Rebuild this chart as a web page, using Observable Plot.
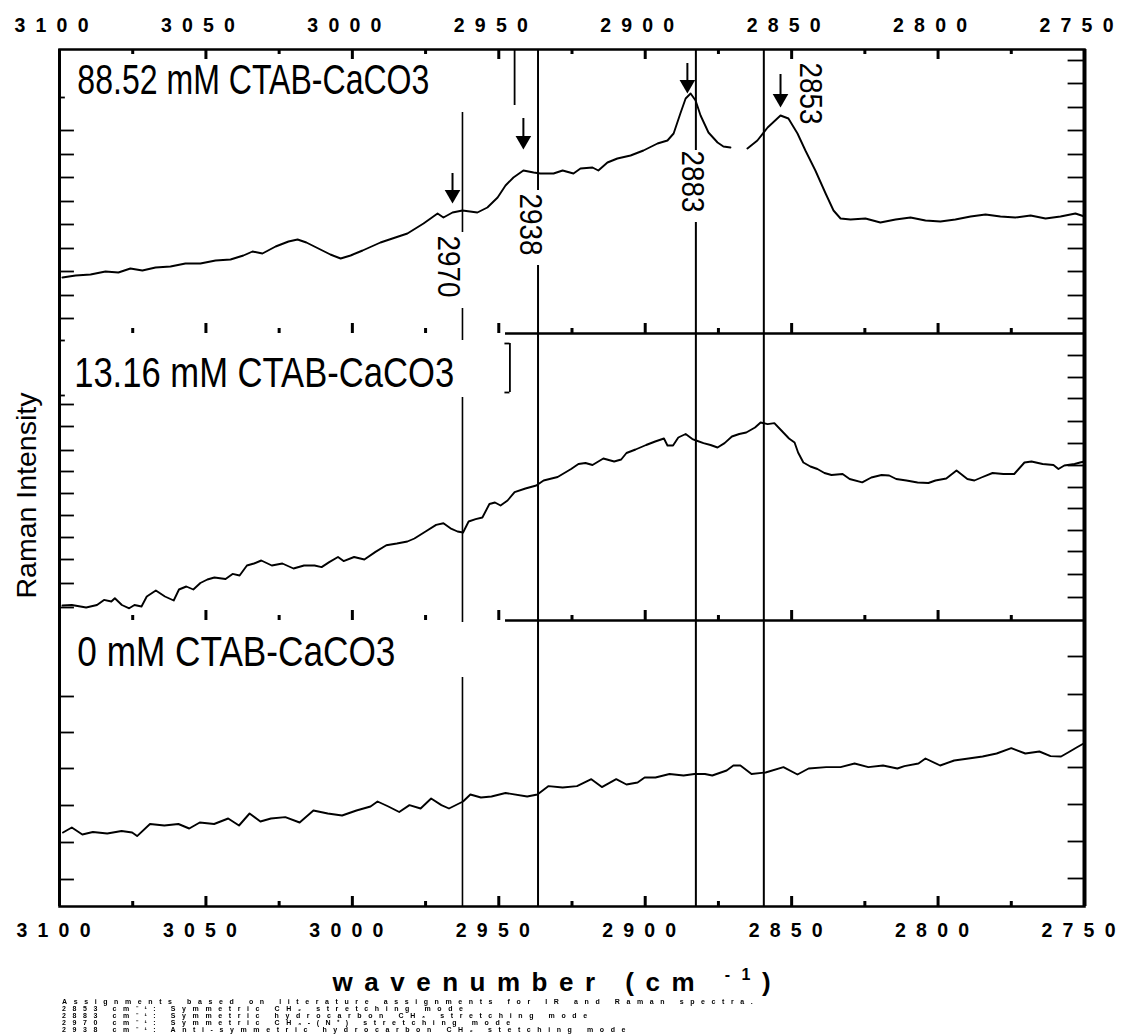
<!DOCTYPE html>
<html><head><meta charset="utf-8">
<script src="https://cdn.jsdelivr.net/npm/d3@7"></script>
<script src="https://cdn.jsdelivr.net/npm/@observablehq/plot@0.6"></script>
<style>
body{margin:0;background:#fff;width:1121px;height:1035px;overflow:hidden;font-family:"Liberation Sans",Arial,sans-serif}
#note{margin-left:62px;margin-top:2px;font-weight:bold;font-size:7px;line-height:7px;letter-spacing:6.6px;color:#000;white-space:nowrap;will-change:transform}
</style></head><body><div id="chart"></div>
<div id="note"></div>
<script>
// ---------- data ----------
const wavenumberTicks = [3100,3050,3000,2950,2900,2850,2800,2750];
const majorTicks = [3050,3000,2950,2900,2850,2800];
const minorTicks = [3075,3025,2975,2925,2875,2825,2775];
const panelNames = ["0 mM CTAB-CaCO3","13.16 mM CTAB-CaCO3","88.52 mM CTAB-CaCO3"];
const panelOffsets = [0, 286, 573];   // stacking offsets (a.u.)
const yTop = 857;

// 88.52 mM spectrum (null = break in trace)
const topWn = [3099.0,3094.5,3089.4,3084.3,3079.9,3075.8,3071.7,3067.2,3062.1,3057.0,
3051.9,3046.7,3041.6,3037.2,3034.1,3030.7,3026.2,3021.8,3018.7,3015.7,
3011.6,3007.5,3004.0,3000.6,2996.5,2990.4,2985.3,2981.2,2975.7,2970.9,
2968.9,2965.8,2962.4,2957.3,2953.9,2950.4,2947.7,2945.0,2941.6,2938.1,
2935.8,2931.3,2928.2,2924.5,2922.1,2918.0,2916.0,2912.9,2909.5,2905.0,
2900.6,2895.8,2892.4,2890.3,2888.0,2886.2,2884.5,2882.8,2881.1,2878.4,
2875.3,2873.3,2870.9,2868.0,2865.1,2861.7,2858.2,2853.8,2851.1,2848.0,
2845.3,2841.9,2838.4,2835.7,2833.3,2829.9,2824.8,2819.7,2814.5,2809.4,
2804.3,2799.2,2794.1,2788.9,2783.8,2778.7,2773.6,2768.4,2763.3,2758.2,
2753.1,2750.0];
const topI = [56,58,59,62,61,65,63,66,67,70,
70,73,74,78,82,80,87,92,94,91,
85,79,75,78,83,91,96,100,110,120,
116,121,123,121,126,136,148,156,163,161,
160,160,163,160,165,166,163,171,175,178,
183,190,193,200,220,235,240,233,218,201,
191,187,186,null,185,193,206,218,215,200,
183,163,140,123,115,114,115,111,114,116,
113,112,114,117,119,117,116,118,115,117,
120,117];

// 13.16 mM spectrum
const midWn = [3099.0,3095.8,3090.9,3087.2,3084.8,3082.3,3081.1,3078.7,3076.2,3074.4,
3072.0,3070.2,3067.1,3064.0,3061.0,3059.2,3056.7,3054.3,3051.9,3049.5,
3047.1,3043.3,3040.9,3038.5,3036.0,3033.6,3031.1,3027.5,3023.9,3020.1,
3016.5,3012.9,3010.5,3007.9,3004.9,3003.0,2999.4,2995.9,2992.1,2988.4,
2984.8,2981.2,2978.8,2975.0,2971.4,2968.9,2966.5,2964.1,2962.2,2960.3,
2957.9,2955.6,2953.2,2951.3,2949.4,2947.0,2944.6,2940.9,2937.2,2934.7,
2929.9,2925.3,2922.8,2920.4,2918.0,2914.3,2910.6,2908.2,2906.4,2903.3,
2899.7,2896.6,2893.6,2892.4,2890.5,2888.7,2886.2,2883.9,2882.6,2880.1,
2877.7,2875.3,2872.9,2870.4,2867.9,2865.5,2862.5,2860.6,2858.2,2855.9,
2853.5,2850.9,2849.0,2847.8,2846.0,2843.6,2841.2,2838.8,2836.4,2832.6,
2830.2,2825.9,2822.8,2819.3,2816.7,2814.3,2810.8,2807.0,2803.3,2800.9,
2797.2,2793.7,2790.0,2787.6,2785.2,2781.4,2777.7,2774.0,2770.5,2768.1,
2764.3,2760.6,2758.9,2756.9,2753.4,2751.5,2750.0];
const midI = [15,15.5,13,15.5,20.6,19,22.3,15.5,12.2,15.5,
14,24,30,24,20,31,34,31,37.5,41,
43,41.5,46.6,45,55,57,60,55,57,52,
55,55,53.4,58.4,63.5,59.4,63.5,61,68.6,75.3,
77,79,82,89,95.6,97.3,92.2,89,88,99,
101.3,103,116.5,118,115,120,128.3,132,135,140,
143.5,151.5,156.5,157.5,155.5,162,159,161,167.5,171,
175.5,179,182,175,175,183,186.5,181.4,180,177.4,
175.5,173,177.4,184,186.5,188,193,198,196.4,197.4,
190,182,178,168,158,154,151.5,147.5,145.5,146.5,
141.5,138.2,143,145.5,145,141.5,140,138,137.5,140,
142,150,141.5,140,143,147.5,146.5,146.5,158,159,
156.5,155.5,151.5,155,156.5,158,159];

// 0 mM spectrum
const botWn = [3098.8,3095.8,3092.2,3088.6,3083.7,3078.8,3075.2,3073.5,3069.1,3064.2,
3059.4,3055.7,3052.1,3047.2,3042.4,3038.7,3035.1,3031.4,3027.8,3022.9,
3018.0,3013.3,3008.4,3003.5,2998.6,2993.8,2991.4,2987.7,2984.0,2980.5,
2976.7,2973.1,2969.6,2967.0,2962.2,2959.7,2956.1,2952.5,2947.7,2940.3,2936.8,
2933.0,2928.2,2923.3,2918.4,2914.8,2909.9,2906.4,2902.6,2900.2,2896.5,
2891.7,2886.9,2883.2,2879.6,2877.1,2872.2,2869.9,2867.5,2863.7,2858.9,
2852.8,2848.0,2844.2,2838.2,2833.3,2828.5,2823.8,2818.8,2813.9,2811.5,
2806.7,2804.3,2799.3,2794.5,2789.6,2784.8,2780.0,2775.0,2770.2,2765.4,
2761.6,2758.0,2755.6,2752.7,2750.3];
const botI = [74,79,72,74.5,73,75.5,74,70.4,82.5,81,
82.5,78,84,82.5,88,81,93,85,88,89.4,
84,96,93,91,96,100,105,100,94.5,101.4,
98,108,101.4,98,105,112,109,110,113.5,110,112,
120.4,119,120.4,127.3,119.4,127.3,122,124,129,129,
132.5,131,132.5,132.5,131,136,141,141,132.5,134,
139.4,132,138,139.4,139.4,143,139.4,141,138,140.4,
143,148,141,146,148,150,153,158.4,153,155,
150.4,150,154,159,163];

// peak assignments
const peakLabels = ["2970","2938","2883","2853"];
const peakLabelWn = [2967.2, 2939.2, 2883.9, 2843.6];
const peakLabelY = [640, 682, 725, 813];
const arrowWn = [2965.8, 2941.6, 2885.6, 2853.8];
const arrowTop = [733, 788, 843, 832];
const arrowTip = [703, 757, 813, 799];
// reference lines drawn as segments (gaps behind labels / boxes)
const segWn   = [2962.4,2962.4,2962.4,2962.4, 2936.6,2936.6, 2882.7,2882.7, 2859.5];
const segFrom = [794, 598, 509, 229, 857, 641, 857, 684, 857];
const segTo   = [674, 566, 284,   0, 716,   0, 756,   0,   0];
const segW    = [1.6,1.6,1.6,1.6, 2,2, 2,2, 2];

// unlabelled intensity ticks (a.u.)
const leftTicks = [776,752,729,705,682,658,635,611,588, 502,480,456,435,413,391,369,347,323,299, 210,174,138,101,64,27];
const rightTicks = [846,823,799,776,752,729,705,682,658,635,611,588, 551,529,508,485,463,441,419,398,376,355,332,309, 250,212,176,139,102,65,28];

const footLines = [
 "Assignments based on literature assignments for IR and Raman spectra.",
 "2853 cm⁻¹: Symmetric CH₂ stretching mode",
 "2883 cm⁻¹: Symmetric hydrocarbon CH₃ stretching mode",
 "2970 cm⁻¹: Symmetric CH₃-(N⁺) stretching mode",
 "2938 cm⁻¹: Anti-symmetric hydrocarbon CH₂ stetching mode"
];

// ---------- tables ----------
const rows = [];
[[botWn, botI], [midWn, midI], [topWn, topI]].forEach(([w, I], k) => {
  w.forEach((x, i) => rows.push({series: panelNames[k], wn: x, y: I[i] == null ? NaN : I[i] + panelOffsets[k]}));
});
const segs = segWn.map((w, i) => ({wn: w, from: segFrom[i], to: segTo[i], w: segW[i]}));
const arrows = arrowWn.map((w, i) => ({wn: w, top: arrowTop[i], tip: arrowTip[i]}));
const peaks = peakLabels.map((t, i) => ({t, wn: peakLabelWn[i], y: peakLabelY[i]}));
const xTickRows = [];
[[yTop, -1], [panelOffsets[2], 1], [panelOffsets[1], 1], [0, 1]].forEach(([b, s]) => {
  majorTicks.forEach(t => xTickRows.push({wn: t, y1: b, y2: b + s * 10}));
  minorTicks.forEach(t => xTickRows.push({wn: t, y1: b, y2: b + s * 5}));
});
const panelLabelRows = [
  {t: panelNames[2], wn: 3093.9, y: 813},
  {t: panelNames[1], wn: 3095.0, y: 520},
  {t: panelNames[0], wn: 3093.9, y: 241}
];

const svg = Plot.plot({
  width: 1121, height: 996,
  marginLeft: 59, marginRight: 37, marginTop: 49, marginBottom: 90,
  x: {domain: [3100, 2750], axis: null},
  y: {domain: [0, yTop], axis: null},
  style: {background: "#fff", color: "#000", fontFamily: "'Liberation Sans', Arial, sans-serif", overflow: "visible"},
  marks: [
    Plot.line(rows, {x: "wn", y: "y", z: "series", stroke: "#000", strokeWidth: 1.9}),
    Plot.ruleX(segs, {x: "wn", y1: "from", y2: "to", stroke: "#000", strokeWidth: "w"}),
    Plot.ruleY([panelOffsets[2], panelOffsets[1]], {y: d => d, x1: () => 2947.7, x2: () => 2750, stroke: "#000", strokeWidth: 2.5}),
    Plot.frame({stroke: "#000", strokeWidth: 2.5}),
    Plot.ruleX([3100], {x: d => d, stroke: "#000", strokeWidth: 3}),
    Plot.ruleX([2750], {x: d => d, stroke: "#000", strokeWidth: 4}),
    // label box edges
    Plot.ruleX([2944.6], {x: d => d, y1: () => yTop, y2: () => 801, stroke: "#000", strokeWidth: 1.8}),
    Plot.ruleX([2946.2], {x: d => d, y1: () => 563, y2: () => 514, stroke: "#000", strokeWidth: 1.8}),
    Plot.ruleY([563, 514], {y: d => d, x1: () => 2946.2, x2: () => 2947.9, stroke: "#000", strokeWidth: 1.8}),
    Plot.ruleY([566, 511, 809], {y: d => d, x1: () => 3100, x2: () => 3098, stroke: "#000", strokeWidth: 1.8}),
    // wavenumber ticks
    Plot.ruleX(xTickRows, {x: "wn", y1: "y1", y2: "y2", stroke: "#000", strokeWidth: 3}),
    // intensity ticks
    Plot.ruleY(leftTicks, {y: d => d, x1: () => 3100, x2: () => 3094.9, stroke: "#000", strokeWidth: 1.8}),
    Plot.ruleY(rightTicks, {y: d => d, x1: () => 2750, x2: () => 2755.6, stroke: "#000", strokeWidth: 1.8}),
    // arrows
    Plot.ruleX(arrows, {x: "wn", y1: "top", y2: d => d.tip + 6, stroke: "#000", strokeWidth: 2}),
    Plot.dot(arrows, {x: "wn", y: "tip", symbol: "triangle", r: 5.8, fill: "#000", stroke: "none", rotate: 180, dy: -9}),
    // peak labels
    Plot.text(peaks, {x: "wn", y: "y", text: "t", rotate: 90, fontSize: 32, textAnchor: "middle", lineAnchor: "middle", fill: "#000"}),
    // panel labels
    Plot.text(panelLabelRows, {x: "wn", y: "y", text: "t", fontSize: 42, textAnchor: "start", lineAnchor: "bottom", fill: "#000"}),
    // wavenumber tick labels
    Plot.text(wavenumberTicks, {x: d => d, frameAnchor: "top", dy: -24, dx: -8, text: d => String(d), fontSize: 19.5, fontWeight: "bold", lineAnchor: "middle", fill: "#000"}),
    Plot.text(wavenumberTicks, {x: d => d, frameAnchor: "bottom", dy: 24, dx: -6, text: d => String(d), fontSize: 19.5, fontWeight: "bold", lineAnchor: "middle", fill: "#000"}),
    // axis titles
    Plot.text(["Raman Intensity"], {x: () => 3100, y: () => 411, dx: -33, rotate: -90, fontSize: 28.5, textAnchor: "middle", lineAnchor: "middle", fill: "#000"}),
    Plot.text(["wavenumber (cm"], {x: () => 2930, frameAnchor: "bottom", dy: 76, fontSize: 26, fontWeight: "bold", textAnchor: "middle", lineAnchor: "middle", fill: "#000"})
  ]
});

// typographic adjustments
const labelLen = {"88.52 mM CTAB-CaCO3": 352, "13.16 mM CTAB-CaCO3": 380, "0 mM CTAB-CaCO3": 318};
d3.select(svg).selectAll("text").each(function() {
  const t = this.textContent;
  if (wavenumberTicks.map(String).includes(t)) {
    this.setAttribute("textLength", 74);
    this.setAttribute("lengthAdjust", "spacing");
  } else if (labelLen[t]) {
    this.setAttribute("textLength", labelLen[t]);
    this.setAttribute("lengthAdjust", "spacingAndGlyphs");
  } else if (peakLabels.includes(t)) {
    this.setAttribute("textLength", 62);
    this.setAttribute("lengthAdjust", "spacingAndGlyphs");
  } else if (t === "wavenumber (cm") {
    this.style.letterSpacing = "11.5px";
    const sup = document.createElementNS("http://www.w3.org/2000/svg", "tspan");
    sup.setAttribute("dy", "-11"); sup.setAttribute("font-size", "16"); sup.textContent = "-1";
    const close = document.createElementNS("http://www.w3.org/2000/svg", "tspan");
    close.setAttribute("dy", "11"); close.textContent = ")";
    this.appendChild(document.createTextNode(" "));
    this.appendChild(sup); this.appendChild(close);
  }
});
document.getElementById("chart").appendChild(svg);
document.getElementById("note").innerHTML = footLines.map(l => `<div>${l}</div>`).join("");
</script></body></html>
